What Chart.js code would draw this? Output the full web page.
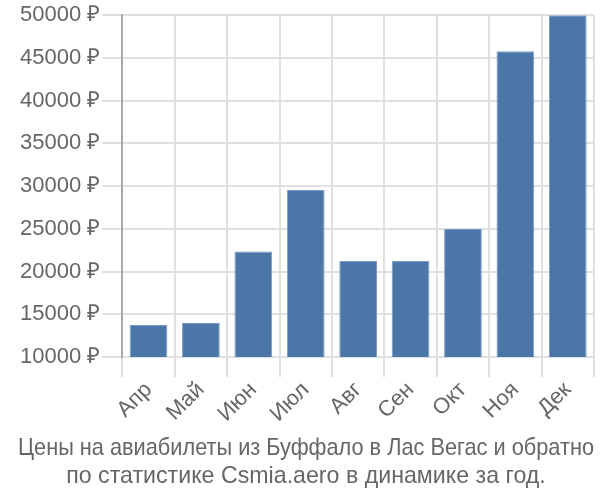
<!DOCTYPE html>
<html>
<head>
<meta charset="utf-8">
<script src="https://cdn.jsdelivr.net/npm/chart.js"></script>
<style>
  body { margin: 0; background: #fff; }
</style>
</head>
<body>
<canvas id="priceChart" width="600" height="500"></canvas>
<script>
var months = ['Апр', 'Май', 'Июн', 'Июл', 'Авг', 'Сен', 'Окт', 'Ноя', 'Дек'];
var prices = [13740, 13980, 22360, 29530, 21230, 21230, 24970, 45790, 50000];
var titleLines = [
    'Цены на авиабилеты из Буффало в Лас Вегас и обратно',
    'по статистике Csmia.aero в динамике за год.'
];

var tickFont = { family: 'Liberation Sans', size: 22 };

var config = {
    type: 'bar',
    data: {
        labels: months,
        datasets: [{
            data: prices,
            backgroundColor: '#4a77a8',
            borderColor: '#7a9cc4',
            borderWidth: 1
        }]
    },
    options: {
        responsive: false,
        animation: false,
        layout: { padding: { left: 18, right: 6, top: 6, bottom: 10 } },
        plugins: {
            legend: { display: false },
            tooltip: { enabled: false },
            title: {
                display: true,
                position: 'bottom',
                text: titleLines,
                color: '#666',
                font: { family: 'Liberation Sans', size: 23.2, weight: 'normal', lineHeight: 1.18 },
                padding: { top: 8, bottom: 0 }
            }
        },
        scales: {
            x: {
                grid: { color: '#e0e0e0', lineWidth: 2, tickLength: 20 },
                border: { color: '#e0e0e0', width: 2 },
                ticks: {
                    color: '#666',
                    font: tickFont,
                    minRotation: 45,
                    maxRotation: 45,
                    padding: 0
                }
            },
            y: {
                min: 10000,
                max: 50000,
                grid: { color: '#e0e0e0', lineWidth: 2, tickLength: 20 },
                border: { color: '#aaa', width: 2 },
                ticks: {
                    stepSize: 5000,
                    color: '#666',
                    font: tickFont,
                    padding: 2,
                    callback: function(v) { return v + ' ₽'; }
                }
            }
        }
    }
};

window.onload = function() {
    var ctx = document.getElementById('priceChart').getContext('2d');
    window.priceChart = new Chart(ctx, config);
};
</script>
</body>
</html>
